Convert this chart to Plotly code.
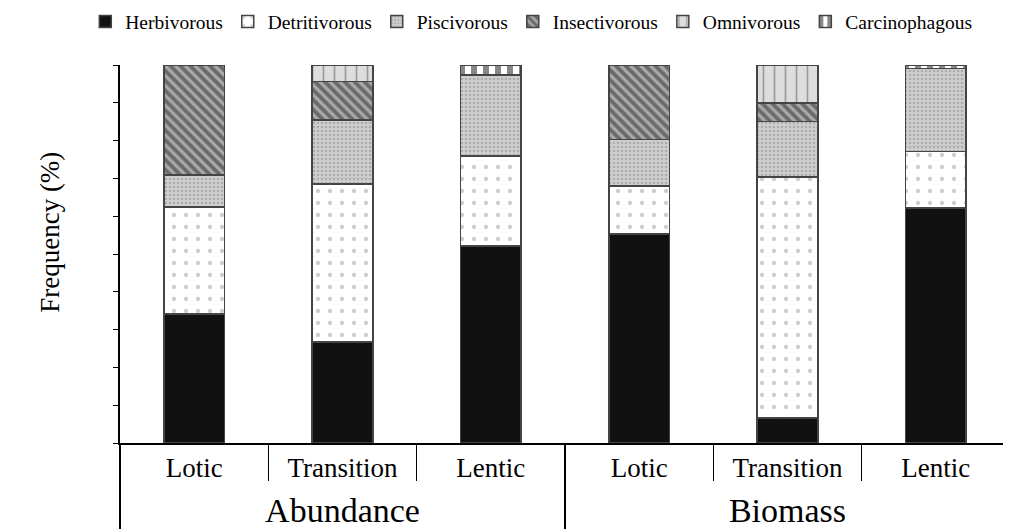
import plotly.graph_objects as go

groups = ["Abundance"] * 3 + ["Biomass"] * 3
sites = ["Lotic", "Transition", "Lentic"] * 2

herbivorous = [34.1, 26.7, 52.1, 55.3, 6.6, 62.2]
detritivorous = [28.3, 41.8, 23.8, 12.7, 63.8, 14.9]
piscivorous = [8.5, 16.9, 21.5, 12.3, 14.6, 22.0]
insectivorous = [29.1, 10.2, 0.0, 19.7, 4.9, 0.0]
omnivorous = [0.0, 4.4, 0.0, 0.0, 10.1, 0.0]
carcinophagous = [0.0, 0.0, 2.6, 0.0, 0.0, 0.9]

series = [
    ("Herbivorous", herbivorous, dict(color="#111111")),
    ("Detritivorous", detritivorous, dict(color="white", pattern=dict(shape=".", fgcolor="#999999", bgcolor="white", size=12, solidity=0.1))),
    ("Piscivorous", piscivorous, dict(color="#bdbdbd", pattern=dict(shape=".", fgcolor="#8a8a8a", bgcolor="#cfcfcf", size=4, solidity=0.35))),
    ("Insectivorous", insectivorous, dict(color="#555555", pattern=dict(shape="\\", fgcolor="#2a2a2a", bgcolor="#aaaaaa", size=7, solidity=0.55))),
    ("Omnivorous", omnivorous, dict(color="#dddddd", pattern=dict(shape="|", fgcolor="#555555", bgcolor="#dddddd", size=11, solidity=0.15))),
    ("Carcinophagous", carcinophagous, dict(color="#444444", pattern=dict(shape="|", fgcolor="#111111", bgcolor="white", size=12, solidity=0.5))),
]

group_labels = {g: "<sub><sub><sub><span style='font-size:34px'>%s</span></sub></sub></sub>" % g for g in groups}
xcats = [[group_labels[g] for g in groups], sites]

fig = go.Figure()
for name, vals, mk in series:
    mk = dict(mk)
    mk["line"] = dict(color="#444444", width=1.5)
    fig.add_trace(go.Bar(name=name, x=xcats, y=vals, marker=mk))

font_family = "Liberation Serif, Times New Roman, serif"
fig.update_layout(
    barmode="stack",
    bargap=0.59,
    width=1003,
    height=522,
    margin=dict(l=112, r=1, t=57, b=87, autoexpand=False),
    paper_bgcolor="white",
    plot_bgcolor="white",
    font=dict(family=font_family, color="black", size=27),
    legend=dict(
        orientation="h",
        traceorder="normal",
        x=-0.039, xanchor="left",
        y=1.114, yanchor="middle",
        font=dict(size=19.5),
        itemwidth=30,
    ),
    showlegend=True,
    annotations=[dict(
        text="Frequency (%)", textangle=-90,
        xref="paper", x=0, xanchor="center", xshift=-70,
        yref="paper", y=0.556, yanchor="middle",
        showarrow=False, font=dict(size=27),
    )],
)
fig.update_xaxes(
    type="multicategory",
    showline=True, linecolor="black", linewidth=1.5,
    ticks="outside", tickson="boundaries", ticklen=36, tickcolor="black",
    showdividers=True, dividercolor="black", dividerwidth=1.5,
    tickfont=dict(size=27), tickangle=0,
)
fig.update_yaxes(
    range=[0, 100], dtick=10,
    showline=True, linecolor="black", linewidth=1.5,
    ticks="outside", ticklen=5, tickcolor="black",
    showticklabels=False, showgrid=False, zeroline=False,
)
fig.write_html("out.html")
